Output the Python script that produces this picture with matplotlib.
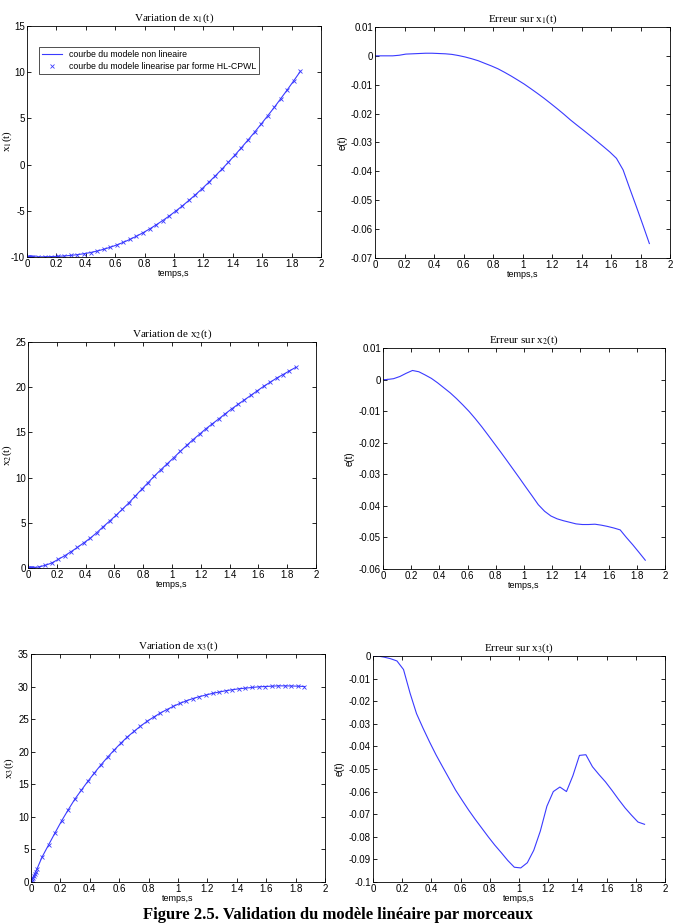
import numpy as np
import matplotlib
matplotlib.use('Agg')
import matplotlib.pyplot as plt
from matplotlib.ticker import FuncFormatter, MultipleLocator

plt.rcParams['font.family'] = ['Liberation Sans', 'DejaVu Sans']
plt.rcParams['mathtext.fontset'] = 'stix'
plt.rcParams['axes.unicode_minus'] = False

# time samples of the simulation (s)
t = [0, 0.004, 0.008, 0.013, 0.018, 0.024, 0.031, 0.04,
     0.075, 0.120, 0.164, 0.209, 0.254, 0.298, 0.343, 0.387, 0.432, 0.477,
     0.521, 0.566, 0.611, 0.655, 0.700, 0.744, 0.789, 0.834, 0.878, 0.923,
     0.968, 1.012, 1.057, 1.101, 1.146, 1.191, 1.235, 1.280, 1.325, 1.369,
     1.414, 1.458, 1.503, 1.548, 1.592, 1.637, 1.682, 1.726, 1.771, 1.815,
     1.860]

x1 = [-10, -10, -10, -10, -10, -10, -10, -10,
      -9.99, -9.98, -9.96, -9.93, -9.89, -9.83, -9.75, -9.65, -9.52, -9.36,
      -9.17, -8.95, -8.70, -8.42, -8.10, -7.76, -7.38, -6.97, -6.53, -6.06,
      -5.56, -5.03, -4.47, -3.88, -3.26, -2.61, -1.94, -1.24, -0.51, 0.24,
      1.02, 1.82, 2.65, 3.50, 4.37, 5.27, 6.19, 7.13, 8.10, 9.08,
      10.10]

x2 = [0, 0, 0, 0, 0.01, 0.01, 0.02, 0.03,
      0.12, 0.30, 0.55, 0.95, 1.35, 1.80, 2.28, 2.78, 3.30, 3.90,
      4.55, 5.18, 5.83, 6.50, 7.20, 7.95, 8.70, 9.45, 10.18, 10.88,
      11.55, 12.20, 12.90, 13.55, 14.20, 14.80, 15.40, 15.95, 16.50, 17.05,
      17.60, 18.10, 18.60, 19.10, 19.60, 20.10, 20.55, 21.00, 21.40, 21.80,
      22.20]

x3 = [0, 0.2, 0.4, 0.65, 0.9, 1.2, 1.55, 1.95,
      3.8, 5.7, 7.55, 9.4, 11.1, 12.7, 14.1, 15.45, 16.75, 18.0,
      19.15, 20.25, 21.3, 22.25, 23.1, 23.9, 24.65, 25.3, 25.9, 26.45,
      26.95, 27.4, 27.8, 28.15, 28.45, 28.7, 28.95, 29.15, 29.35, 29.5,
      29.65, 29.75, 29.85, 29.95, 30.0, 30.05, 30.1, 30.1, 30.08, 30.05,
      30.0]

e1 = [0, 0, 0, 0, 0, 0, 0, 0,
      0.0, 0.0, 0.0002, 0.0006, 0.0007, 0.0008, 0.0009, 0.0009, 0.0008, 0.0007,
      0.0005, 0.0001, -0.0004, -0.0010, -0.0017, -0.0026, -0.0035, -0.0045, -0.0057, -0.0070,
      -0.0084, -0.0098, -0.0114, -0.0130, -0.0147, -0.0165, -0.0183, -0.0202, -0.0222, -0.0240,
      -0.0258, -0.0276, -0.0295, -0.0314, -0.0333, -0.0355, -0.0395, -0.0458, -0.0521, -0.0584,
      -0.0650]

e2 = [0, 0, 0, 0, 0, 0, 0.0001, 0.0001,
      0.0003, 0.0010, 0.0020, 0.0029, 0.0025, 0.0015, 0.0004, -0.0010, -0.0026, -0.0042,
      -0.0060, -0.0080, -0.0101, -0.0124, -0.0149, -0.0175, -0.0202, -0.0229, -0.0256, -0.0284,
      -0.0312, -0.0340, -0.0368, -0.0396, -0.0417, -0.0432, -0.0441, -0.0447, -0.0452, -0.0457,
      -0.0459, -0.0459, -0.0458, -0.0461, -0.0465, -0.0470, -0.0476, -0.0500, -0.0523, -0.0547,
      -0.0572]

e3 = [0, 0, 0, 0, 0, 0, -0.0001, -0.0001,
      -0.0005, -0.0012, -0.0022, -0.0060, -0.0165, -0.0255, -0.0320, -0.0380, -0.0438, -0.0491,
      -0.0542, -0.0594, -0.0639, -0.0682, -0.0723, -0.0761, -0.0800, -0.0837, -0.0870, -0.0905,
      -0.0935, -0.0938, -0.0915, -0.0860, -0.0775, -0.0665, -0.0600, -0.0580, -0.0600, -0.0530,
      -0.0440, -0.0437, -0.0490, -0.0525, -0.0557, -0.0595, -0.0635, -0.0672, -0.0705, -0.0735,
      -0.0745]

states = [x1, x2, x3]
errors = [e1, e2, e3]
state_ylim = [(-10, 15), (0, 25), (0, 35)]
error_ylim = [(-0.07, 0.01), (-0.06, 0.01), (-0.1, 0)]

left_boxes = [[0.040, 0.7216, 0.4356, 0.2503],
              [0.0415, 0.3846, 0.4267, 0.2449],
              [0.0459, 0.0445, 0.4356, 0.2470]]
right_boxes = [[0.5556, 0.7205, 0.4370, 0.2503],
               [0.5674, 0.3835, 0.4178, 0.2394],
               [0.5526, 0.0445, 0.4326, 0.2448]]
left_ylab_x = [-0.045, -0.048, -0.05]
right_ylab_x = [-0.092, -0.099, -0.096]

blue = '#3a3aff'
serif = ['Liberation Serif', 'DejaVu Serif']

fig = plt.figure(figsize=(6.75, 9.23), dpi=100)

fmt = FuncFormatter(lambda v, p: '%g' % (round(v, 6) + 0.0))


def style(ax, ylim, ystep):
    ax.set_xlim(0, 2)
    ax.set_ylim(*ylim)
    ax.xaxis.set_major_locator(MultipleLocator(0.2))
    ax.yaxis.set_major_locator(MultipleLocator(ystep))
    ax.xaxis.set_major_formatter(fmt)
    ax.yaxis.set_major_formatter(fmt)
    ax.tick_params(direction='in', top=True, right=True, length=3,
                   width=0.6, labelsize=7, pad=1.5)
    for s in ax.spines.values():
        s.set_linewidth(0.6)
    ax.set_xlabel('temps,s', fontsize=6.5, labelpad=0)


for i in range(3):
    n = i + 1
    ax = fig.add_axes(left_boxes[i])
    ax.plot(t, states[i], '-', color=blue, lw=0.8,
            label='courbe du modele non lineaire')
    ax.plot(t, states[i], 'x', color=blue, ms=3.5, mew=0.6,
            label='courbe du modele linearise par forme HL-CPWL')
    style(ax, state_ylim[i], 5)
    ax.set_title('Variation de x$_{%d}$(t)' % n, fontsize=8, family=serif, pad=4)
    ax.set_ylabel('x$_{%d}$(t)' % n, fontsize=8, family=serif)
    ax.yaxis.set_label_coords(left_ylab_x[i], 0.5)
    if i == 0:
        leg = ax.legend(loc='upper left', bbox_to_anchor=(0.04, 0.91),
                        borderaxespad=0, fontsize=6.3, frameon=True,
                        fancybox=False, edgecolor='black', borderpad=0.4,
                        handlelength=2.2, labelspacing=0.3)
        leg.get_frame().set_linewidth(0.6)

    ax = fig.add_axes(right_boxes[i])
    ax.plot(t, errors[i], '-', color=blue, lw=0.8)
    style(ax, error_ylim[i], 0.01)
    ax.set_title('Erreur sur x$_{%d}$(t)' % n, fontsize=8, family=serif, pad=4)
    ax.set_ylabel('e(t)', fontsize=7)
    ax.yaxis.set_label_coords(right_ylab_x[i], 0.5)

fig.text(0.5, 0.0045, 'Figure 2.5. Validation du modèle linéaire par morceaux',
         ha='center', va='baseline', fontsize=12, fontweight='bold', family=serif)

fig.savefig('out.png', dpi=100)
